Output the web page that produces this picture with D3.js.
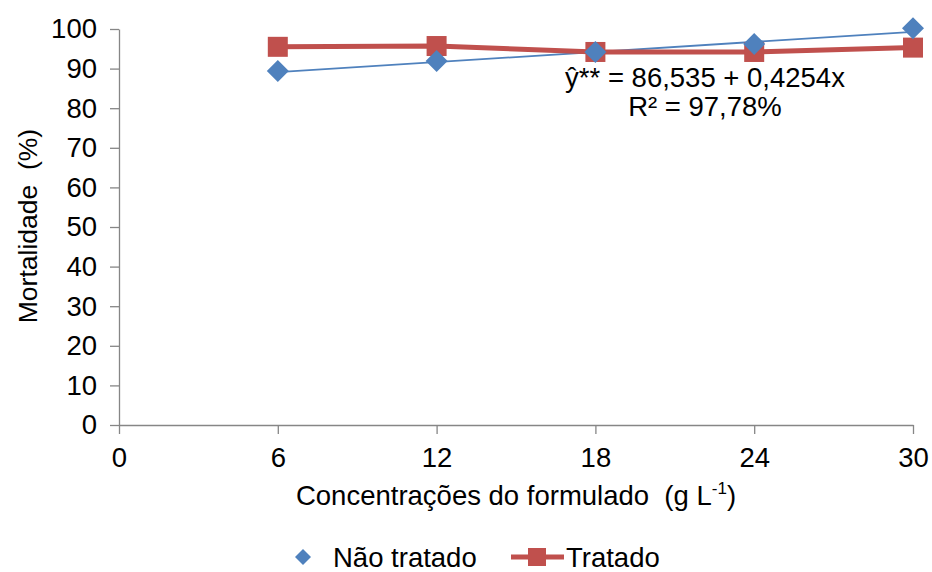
<!DOCTYPE html>
<html><head><meta charset="utf-8">
<script src="https://cdn.jsdelivr.net/npm/d3@7"></script>
<style>body{margin:0;background:#fff}svg{font-family:"Liberation Sans",Arial,sans-serif}text{white-space:pre}</style>
</head><body><svg id="c" width="932" height="572"></svg>
<script>
const concentrations = [6, 12, 18, 24, 30];
const naoTratado = [89.4, 91.9, 94.2, 96.2, 100.2];
const tratado = [95.5, 95.7, 94.2, 94.2, 95.3];
const xTicks = [0, 6, 12, 18, 24, 30];
const yTicks = [0, 10, 20, 30, 40, 50, 60, 70, 80, 90, 100];
const regIntercept = 86.535, regSlope = 0.4254;
const seriesNames = ["Não tratado", "Tratado"];

const svg = d3.select("#c");
const x = d3.scaleLinear().domain([0, 30]).range([119, 913]);
const y = d3.scaleLinear().domain([0, 100]).range([425, 29]);
const axisColor = "#868686", blue = "#4F81BD", red = "#C0504D";
const fs = 27.5;

const gx = svg.append("g").attr("transform", "translate(0,425)")
  .call(d3.axisBottom(x).tickValues(xTicks).tickSize(9).tickSizeOuter(0).tickPadding(13));
const gy = svg.append("g").attr("transform", "translate(119,0)")
  .call(d3.axisLeft(y).tickValues(yTicks).tickSize(9).tickSizeOuter(0).tickPadding(13));
[gx, gy].forEach(g => {
  g.select(".domain").attr("stroke", axisColor).attr("stroke-width", 1.3);
  g.selectAll(".tick line").attr("stroke", axisColor).attr("stroke-width", 1.3);
  g.selectAll("text").attr("font-size", fs).attr("fill", "#000").attr("font-family", "Liberation Sans, Arial, sans-serif");
});

const lineGen = d3.line().x(d => x(d[0])).y(d => y(d[1]));
// regression line for Não tratado
const x0 = concentrations[0], x1 = concentrations[concentrations.length - 1];
svg.append("path")
  .datum([[x0, regIntercept + regSlope * x0], [x1, regIntercept + regSlope * x1]])
  .attr("d", lineGen).attr("fill", "none").attr("stroke", blue).attr("stroke-width", 1.8);

// Tratado line
svg.append("path").datum(concentrations.map((c, i) => [c, tratado[i]]))
  .attr("d", lineGen).attr("fill", "none").attr("stroke", red).attr("stroke-width", 5);

svg.selectAll("rect.t").data(concentrations).enter().append("rect")
  .attr("x", d => x(d) - 10).attr("y", (d, i) => y(tratado[i]) - 10)
  .attr("width", 20).attr("height", 20).attr("fill", red);

const diamond = "M0,-11L11,0L0,11L-11,0Z";
svg.selectAll("path.d").data(concentrations).enter().append("path")
  .attr("d", diamond).attr("fill", blue)
  .attr("transform", (d, i) => `translate(${x(d)},${y(naoTratado[i])})`);

// equation
svg.append("text").attr("x", 705).attr("y", 87).attr("text-anchor", "middle")
  .attr("font-size", fs).text("ŷ** = 86,535 + 0,4254x");
svg.append("text").attr("x", 705).attr("y", 116).attr("text-anchor", "middle")
  .attr("font-size", fs).text("R² = 97,78%");

// axis titles
svg.append("text").attr("transform", "translate(37,226) rotate(-90)").attr("text-anchor", "middle")
  .attr("font-size", fs - 1).text("Mortalidade  (%)");
const xt = svg.append("text").attr("x", 516).attr("y", 505).attr("text-anchor", "middle").attr("font-size", fs);
xt.append("tspan").text("Concentrações do formulado  (g L");
xt.append("tspan").attr("font-size", 17).attr("dy", -11).text("-1");
xt.append("tspan").attr("dy", 11).text(")");

// legend
const lg = svg.append("g");
lg.append("path").attr("d", "M0,-8L8,0L0,8L-8,0Z").attr("fill", blue).attr("transform", "translate(303,557)");
lg.append("text").attr("x", 333).attr("y", 567).attr("font-size", fs).text(seriesNames[0]);
lg.append("line").attr("x1", 511).attr("x2", 564).attr("y1", 557).attr("y2", 557).attr("stroke", red).attr("stroke-width", 5);
lg.append("rect").attr("x", 528).attr("y", 548).attr("width", 18).attr("height", 18).attr("fill", red);
lg.append("text").attr("x", 566).attr("y", 567).attr("font-size", fs).text(seriesNames[1]);
</script></body></html>
